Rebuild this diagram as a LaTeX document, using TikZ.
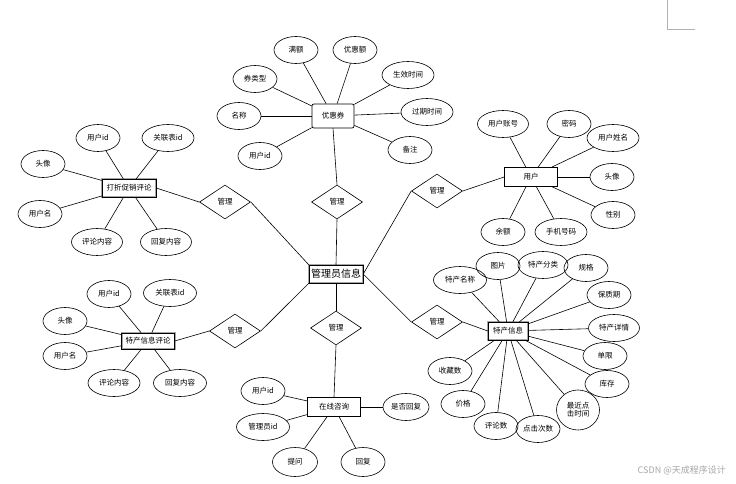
\documentclass[tikz,border=0pt]{standalone}
\usepackage{fontspec}
\setmainfont{Noto Sans CJK SC}
\usetikzlibrary{shapes.geometric}
\begin{document}
\begin{tikzpicture}[x=1pt,y=-1pt,
  every node/.style={font=\fontsize{7.5}{8}\selectfont, inner sep=0pt},
  attr/.style={ellipse, draw, line width=0.6pt, minimum width=44pt, minimum height=27pt},
  ent/.style={rectangle, draw, line width=0.7pt, minimum height=19pt},
  wentity/.style={rectangle, draw=black, line width=0.5pt, minimum height=18pt,
     preaction={draw=gray!70, line width=2pt}},
  rel/.style={diamond, draw, line width=0.6pt, minimum width=51pt, minimum height=34pt},
  conn/.style={draw, line width=0.6pt}]
\useasboundingbox (0,0) rectangle (736,484);
% corner mark
\draw[gray!60, line width=0.8pt] (667,0) coordinate (cm1) -- (667,29) coordinate (cm2) -- (695,29) coordinate (cm3);

% central entity
\node[wentity, minimum width=54pt, font=\fontsize{10}{11}\selectfont] (admin) at (336,274) {管理员信息};

% relationships
\node[rel] (d1) at (225,202) {管理};
\node[rel] (d2) at (337,202) {管理};
\node[rel] (d3) at (437,191) {管理};
\node[rel] (d4) at (235,331) {管理};
\node[rel] (d5) at (336,328) {管理};
\node[rel] (d6) at (437,322) {管理};

% 优惠券
\node[ent, rounded corners=2pt, minimum width=42pt, minimum height=24pt] (yhq) at (333,116) {优惠券};
\node[attr] (yhq1) at (296,50) {满额};
\node[attr] (yhq2) at (355,50) {优惠额};
\node[attr] (yhq3) at (255,79) {券类型};
\node[attr] (yhq4) at (239,116) {名称};
\node[attr] (yhq5) at (260,156) {用户id};
\node[attr, minimum width=52pt] (yhq6) at (408,75) {生效时间};
\node[attr, minimum width=52pt] (yhq7) at (427,112) {过期时间};
\node[attr] (yhq8) at (410,150) {备注};
\foreach \i in {1,...,8} \draw[conn] (yhq) -- (yhq\i);

% 打折促销评论
\node[wentity, minimum width=54pt] (dz) at (129,188) {打折促销评论};
\node[attr] (dz1) at (98,138) {用户id};
\node[attr, minimum width=52pt] (dz2) at (168,138) {关联表id};
\node[attr] (dz3) at (43,164) {头像};
\node[attr] (dz4) at (40,214) {用户名};
\node[attr, minimum width=51pt] (dz5) at (97,242) {评论内容};
\node[attr, minimum width=51pt] (dz6) at (166,242) {回复内容};
\foreach \i in {1,...,6} \draw[conn] (dz) -- (dz\i);

% 用户
\node[ent, minimum width=53pt] (yh) at (531,177) {用户};
\node[attr, minimum width=51pt] (yh1) at (503,124) {用户账号};
\node[attr] (yh2) at (569,124) {密码};
\node[attr, minimum width=52pt] (yh3) at (613,138) {用户姓名};
\node[attr] (yh4) at (612,177) {头像};
\node[attr] (yh5) at (613,215) {性别};
\node[attr] (yh6) at (503,232) {余额};
\node[attr, minimum width=52pt] (yh7) at (561,232) {手机号码};
\foreach \i in {1,...,7} \draw[conn] (yh) -- (yh\i);

% 特产信息评论
\node[wentity, minimum width=53pt, minimum height=16pt] (tcp) at (148,341) {特产信息评论};
\node[attr] (tcp1) at (109,294) {用户id};
\node[attr, minimum width=53pt] (tcp2) at (170,293) {关联表id};
\node[attr] (tcp3) at (65,321) {头像};
\node[attr] (tcp4) at (65,356) {用户名};
\node[attr, minimum width=52pt] (tcp5) at (114,383) {评论内容};
\node[attr, minimum width=53pt] (tcp6) at (180,383) {回复内容};
\foreach \i in {1,...,6} \draw[conn] (tcp) -- (tcp\i);

% 特产信息
\node[wentity, minimum width=40pt] (tc) at (508,331) {特产信息};
\node[attr, minimum width=53pt] (tc1) at (460,280) {特产名称};
\node[attr] (tc2) at (498,266) {图片};
\node[attr, minimum width=50pt] (tc3) at (543,265) {特产分类};
\node[attr] (tc4) at (586,268) {规格};
\node[attr] (tc5) at (609,295) {保质期};
\node[attr, minimum width=51pt] (tc6) at (614,328) {特产详情};
\node[attr] (tc7) at (605,356) {单限};
\node[attr] (tc8) at (607,384) {库存};
\node[attr, minimum width=43pt, minimum height=40pt, align=center] (tc9) at (578,410) {最近点\\击时间};
\node[attr] (tc10) at (538,429) {点击次数};
\node[attr] (tc11) at (496,426) {评论数};
\node[attr] (tc12) at (463,404) {价格};
\node[attr] (tc13) at (450,371) {收藏数};
\foreach \i in {1,...,13} \draw[conn] (tc) -- (tc\i);

% 在线咨询
\node[ent, minimum width=53pt] (zx) at (334,407) {在线咨询};
\node[attr] (zx1) at (263,391) {用户id};
\node[attr, minimum width=53pt] (zx2) at (263,427) {管理员id};
\node[attr, minimum width=46pt] (zx3) at (406,407) {是否回复};
\node[attr, minimum width=45pt, minimum height=29pt] (zx4) at (295,462) {提问};
\node[attr, minimum width=44pt, minimum height=29pt] (zx5) at (363,462) {回复};
\foreach \i in {1,...,5} \draw[conn] (zx) -- (zx\i);

% relationship connectors
\draw[conn] (dz.east) -- (d1.west);
\draw[conn] (d1.east) -- (admin.north west);
\draw[conn] (yhq.south) -- (d2.north);
\draw[conn] (d2.south) -- (admin.north);
\draw[conn] (yh.west) -- (d3.east);
\draw[conn] (d3.west) -- (admin.east);
\draw[conn] (tcp.east) -- (d4.west);
\draw[conn] (d4.east) -- (admin.south west);
\draw[conn] (admin.south) -- (d5.north);
\draw[conn] (d5.south) -- (zx.north);
\draw[conn] (admin.east) -- (d6.west);
\draw[conn] (d6.east) -- (tc.west);

% watermark
\node[text=gray!70, font=\fontsize{9}{10}\selectfont, anchor=east] (wm) at (726,470) {CSDN @天成程序设计};
\end{tikzpicture}
\end{document}
